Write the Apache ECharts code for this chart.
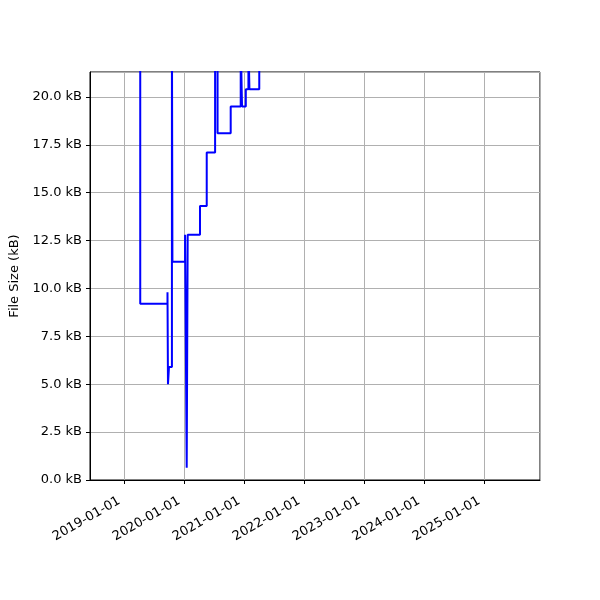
<!DOCTYPE html>
<html>
<head>
<meta charset="utf-8">
<script src="https://cdn.jsdelivr.net/npm/echarts@6/dist/echarts.min.js"></script>
<style>html,body{margin:0;padding:0;background:#fff}#c{width:600px;height:600px}</style>
</head>
<body>
<div id="c"></div>
<script>
// Change dates (step-post) and file sizes in kB
const dates = ['2018-10-08','2019-04-07','2019-09-20','2019-09-23','2019-09-29','2019-10-17','2019-10-20',
  '2020-01-05','2020-01-15','2020-01-21','2020-04-05','2020-05-16','2020-07-06','2020-07-21','2020-10-09',
  '2020-12-09','2020-12-17','2021-01-09','2021-01-25','2021-01-31','2021-04-01','2022-06-01','2024-01-01','2025-08-04'];
const sizes = [25, 9.2, 9.8, 5.0, 5.9, 24, 11.4,
  12.8, 0.64, 12.8, 14.3, 17.1, 23, 18.1, 19.5,
  23, 19.5, 20.4, 23, 20.4, 23, 26, 28, 30];
const xMin = '2018-06-05';
const xMax = '2025-12-06';
const yMax = 21.3;
const yStep = 2.5;

const font = 'DejaVu Sans';
const chart = echarts.init(document.getElementById('c'), null, {renderer: 'canvas'});
const pad = n => (n < 10 ? '0' : '') + n;
const YEAR = 365.25 * 24 * 3600 * 1000;
chart.setOption({
  animation: false,
  backgroundColor: '#fff',
  grid: {left: 90, right: 60, top: 72, bottom: 120, show: true, borderColor: '#000', borderWidth: 1, backgroundColor: 'transparent'},
  xAxis: {
    type: 'time',
    min: xMin, max: xMax,
    minInterval: YEAR, maxInterval: YEAR,
    axisLine: {show: true, lineStyle: {color: '#000', width: 1}},
    axisTick: {show: true, length: 4, lineStyle: {color: '#000'}},
    minorTick: {show: false},
    splitLine: {show: true, lineStyle: {color: '#b0b0b0', width: 1}},
    axisLabel: {
      rotate: 30, color: '#000', fontFamily: font, fontSize: 13, margin: 17,
      padding: [0, 6, 0, 0],
      showMinLabel: false, showMaxLabel: false,
      formatter: v => { const d = new Date(v); return d.getFullYear() + '-' + pad(d.getMonth() + 1) + '-' + pad(d.getDate()); }
    }
  },
  yAxis: {
    type: 'value',
    min: 0, max: yMax, interval: yStep,
    name: 'File Size (kB)', nameLocation: 'middle', nameGap: 67,
    nameTextStyle: {color: '#000', fontFamily: font, fontSize: 13},
    axisLine: {show: true, lineStyle: {color: '#000', width: 1}},
    axisTick: {show: true, length: 4, lineStyle: {color: '#000'}},
    splitLine: {show: true, lineStyle: {color: '#b0b0b0', width: 1}},
    axisLabel: {color: '#000', fontFamily: font, fontSize: 13, margin: 8, showMaxLabel: false,
      formatter: v => v.toFixed(1) + ' kB'}
  },
  series: [{
    type: 'line',
    step: 'end',
    showSymbol: false,
    clip: true,
    data: dates.map((d, i) => [d, sizes[i]]),
    lineStyle: {color: '#0000ff', width: 2},
    itemStyle: {color: '#0000ff'}
  }]
});
</script>
</body>
</html>
